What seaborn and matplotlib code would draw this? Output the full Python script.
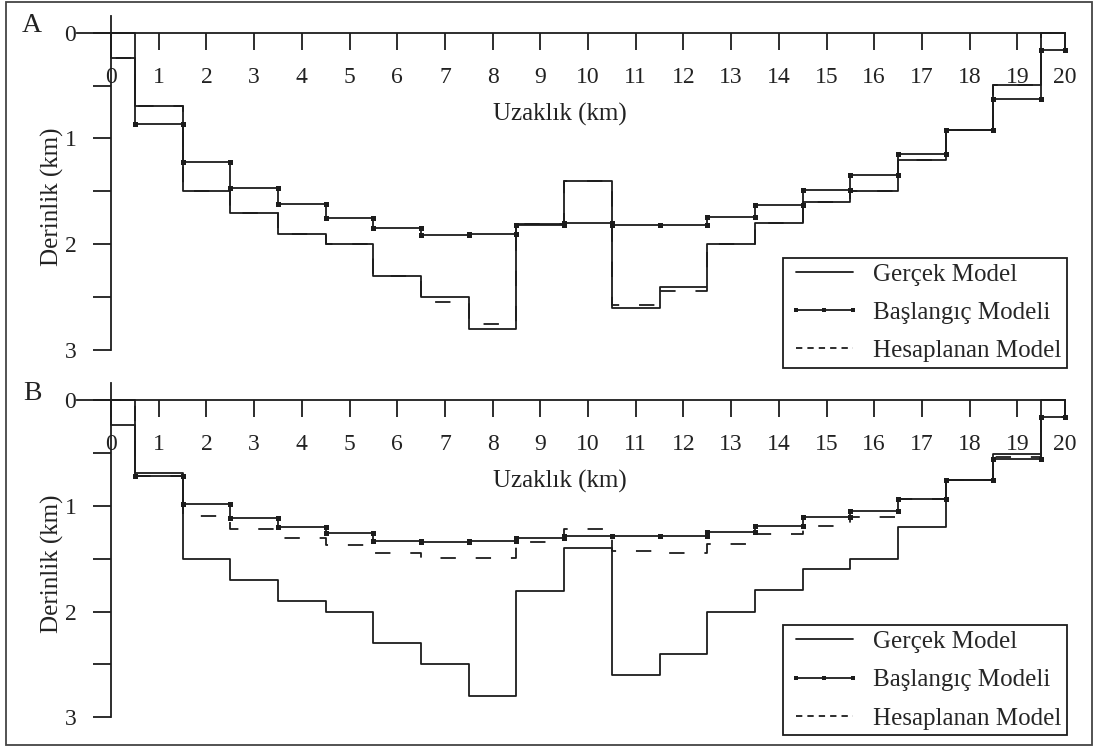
import numpy as np
import matplotlib
matplotlib.use("Agg")
import matplotlib.pyplot as plt
from matplotlib.lines import Line2D
from matplotlib.patches import Rectangle
import seaborn as sns

# Station positions along the profile (km); each block is centred on a station
stations = np.arange(0, 21)

# Basement depth (km) per block, panel A
gercek_a = [0.24, 0.69, 1.50, 1.70, 1.90, 2.00, 2.30, 2.50, 2.80, 1.81,
            1.40, 2.60, 2.40, 2.00, 1.80, 1.60, 1.50, 1.20, 0.92, 0.49, 0.00]
baslangic_a = [0.00, 0.86, 1.22, 1.47, 1.62, 1.75, 1.85, 1.91, 1.90, 1.82,
               1.80, 1.82, 1.82, 1.74, 1.63, 1.49, 1.35, 1.15, 0.92, 0.63, 0.16]
hesaplanan_a = [0.24, 0.69, 1.50, 1.70, 1.90, 2.00, 2.30, 2.55, 2.75, 1.81,
                1.40, 2.57, 2.44, 2.00, 1.80, 1.60, 1.50, 1.20, 0.92, 0.49, 0.00]

# Basement depth (km) per block, panel B
gercek_b = [0.24, 0.69, 1.50, 1.70, 1.90, 2.00, 2.30, 2.50, 2.80, 1.81,
            1.40, 2.60, 2.40, 2.00, 1.80, 1.60, 1.50, 1.20, 0.76, 0.51, 0.00]
baslangic_b = [0.00, 0.72, 0.98, 1.12, 1.20, 1.26, 1.33, 1.34, 1.33, 1.30,
               1.29, 1.29, 1.29, 1.25, 1.19, 1.11, 1.05, 0.94, 0.76, 0.56, 0.165]
hesaplanan_b = [0.00, 0.72, 1.10, 1.22, 1.30, 1.37, 1.45, 1.49, 1.49, 1.34,
                1.22, 1.43, 1.45, 1.36, 1.27, 1.19, 1.11, 0.94, 0.76, 0.54, 0.165]

panel_labels = ["A", "B"]
x_ticks = list(range(0, 21))
y_major = [0, 1, 2, 3]
y_minor = [0.5, 1.5, 2.5]
xlabel = "Uzaklık (km)"
ylabel = "Derinlik (km)"
legend_labels = ["Gerçek Model", "Başlangıç Modeli", "Hesaplanan Model"]

INK = "#1c1c1c"
TXT = "#222222"

sns.set_theme(style="white")
plt.rcParams["font.family"] = ["Liberation Serif", "DejaVu Serif"]

# block edges: midpoints between stations, limited to the profile ends
edges = np.concatenate([[stations[0]],
                        (stations[:-1] + stations[1:]) / 2.0,
                        [stations[-1]]])


def block_path(vals):
    """Stair-step outline of a block model, closed to the surface at both ends."""
    xs = np.repeat(edges, 2)[1:-1]
    ys = np.repeat(np.asarray(vals, float), 2)
    xs = np.concatenate([[edges[0]], xs, [edges[-1]]])
    ys = np.concatenate([[0.0], ys, [0.0]])
    return xs, ys


W, H = 1094, 748
fig = plt.figure(figsize=(W / 100, H / 100), dpi=100)

x_left = -0.72
panels = [
    (gercek_a, baslangic_a, hesaplanan_a, 32.7),
    (gercek_b, baslangic_b, hesaplanan_b, 400.0),
]
px_per_km_y = 105.77
ax_left_px, ax_right_px = 76.7, 1065.0

for i, (g, b, h, y0px) in enumerate(panels):
    top_px = y0px - 0.16 * px_per_km_y
    bot_px = y0px + 3.0 * px_per_km_y
    ax = fig.add_axes([ax_left_px / W, 1 - bot_px / H,
                       (ax_right_px - ax_left_px) / W, (bot_px - top_px) / H])

    xs, ys = block_path(g)
    sns.lineplot(x=xs, y=ys, sort=False, estimator=None, ax=ax,
                 color=INK, lw=1.3, clip_on=False)

    xs, ys = block_path(h)
    sns.lineplot(x=xs, y=ys, sort=False, estimator=None, ax=ax,
                 color=INK, lw=1.3, linestyle=(3, (8.5, 11.0)), clip_on=False)

    xs, ys = block_path(b)
    marked = [k for k in range(1, len(xs) - 1) if ys[k] > 0]
    sns.lineplot(x=xs, y=ys, sort=False, estimator=None, ax=ax,
                 color=INK, lw=1.3, marker="s", markersize=3.6,
                 markeredgewidth=0, markevery=marked, clip_on=False)

    ax.set_xlim(x_left, 20)
    ax.set_ylim(3.0, -0.16)

    for s in ("top", "right"):
        ax.spines[s].set_visible(False)
    ax.spines["bottom"].set_position(("data", 0))
    ax.spines["left"].set_position(("data", 0))
    for s in ("left", "bottom"):
        ax.spines[s].set_color(INK)
        ax.spines[s].set_linewidth(1.3)

    ax.set_xticks(x_ticks)
    ax.set_xticklabels([str(t) for t in x_ticks])
    ax.set_yticks(y_major)
    ax.set_yticklabels([str(t) for t in y_major])
    ax.set_yticks(y_minor, minor=True)
    ax.tick_params(axis="x", which="major", bottom=True, top=False,
                   direction="out", length=12, width=1.3,
                   pad=12.5, labelsize=17, colors=INK, labelcolor=TXT)
    ax.tick_params(axis="y", which="both", left=True, right=False,
                   direction="out", length=13, width=1.3, pad=12,
                   labelsize=17, colors=INK, labelcolor=TXT)
    ax.grid(False)

    ax.set_xlabel(xlabel, fontsize=18, color=TXT)
    ax.xaxis.label.set_verticalalignment("center")
    ax.xaxis.set_label_coords((560 - ax_left_px) / (ax_right_px - ax_left_px),
                              (bot_px - (y0px + 81.5)) / (bot_px - top_px))
    ax.set_ylabel(ylabel, fontsize=18, color=TXT)
    ax.yaxis.label.set_verticalalignment("center")
    ax.yaxis.set_label_coords((52 - ax_left_px) / (ax_right_px - ax_left_px),
                              (bot_px - (y0px + 163.8)) / (bot_px - top_px))

    handles = [
        Line2D([], [], color=INK, lw=1.3),
        Line2D([], [], color=INK, lw=1.3, marker="s", markersize=3.0,
               markeredgewidth=0),
        Line2D([], [], color=INK, lw=1.3, linestyle=(0, (3.5, 2.8))),
    ]
    leg = fig.legend(handles, legend_labels, loc="upper left",
                     bbox_to_anchor=(782.7 / W, 1 - (y0px + 225.0) / H),
                     fontsize=18, numpoints=3, frameon=True, fancybox=False,
                     framealpha=1, edgecolor=INK, borderpad=0.22,
                     labelspacing=0.63, handlelength=2.9, handletextpad=0.5,
                     borderaxespad=0)
    leg.get_frame().set_linewidth(1.3)

    fig.text(32 / W, 1 - (y0px - 7.0) / H, panel_labels[i], fontsize=20,
             ha="center", va="center", color=TXT)

# outer frame around the whole figure
fig.patches.append(Rectangle((6 / W, 3 / H), (1092 - 6) / W, (746 - 3) / H,
                             transform=fig.transFigure, fill=False,
                             edgecolor="#444444", lw=1.3))

fig.savefig("out.png", dpi=100)
